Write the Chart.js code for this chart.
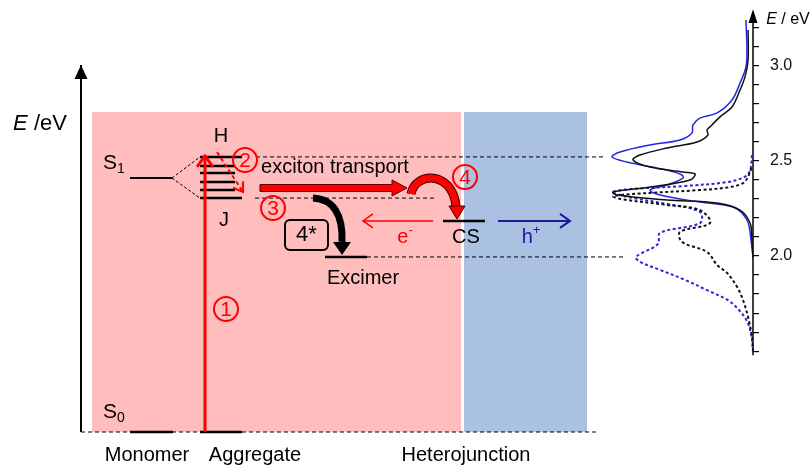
<!DOCTYPE html>
<html>
<head>
<meta charset="utf-8">
<script src="https://cdn.jsdelivr.net/npm/chart.js@4.4.1/dist/chart.umd.min.js"></script>
<style>
  html, body { margin: 0; padding: 0; background: #fff; }
  #wrap { position: relative; width: 812px; height: 466px; }
</style>
</head>
<body>
<div id="wrap"><canvas id="chart"></canvas></div>
<script>
// Energy axis (eV)
const energyTicks = [1.5, 1.6, 1.7, 1.8, 1.9, 2.0, 2.1, 2.2, 2.3, 2.4, 2.5, 2.6, 2.7, 2.8, 2.9, 3.0, 3.1, 3.2];
const energyLabels = ['2.0', '2.5', '3.0'];

// Spectra: energy (eV) vs normalised intensity
const absBlackE = [3.186, 3.029, 2.94, 2.871, 2.782, 2.730, 2.688, 2.661, 2.635, 2.598, 2.567, 2.530, 2.504, 2.467, 2.441, 2.430, 2.399, 2.362, 2.336, 2.320, 2.294, 2.278, 2.241, 2.173, 2.084, 1.99];
const absBlackI = [0.035, 0.035, 0.057, 0.092, 0.149, 0.234, 0.291, 0.326, 0.319, 0.397, 0.610, 0.801, 0.851, 0.730, 0.496, 0.411, 0.447, 0.730, 0.993, 0.965, 0.610, 0.255, 0.092, 0.021, 0.007, 0.0];
const absBlueE = [3.239, 3.081, 2.992, 2.908, 2.819, 2.751, 2.724, 2.688, 2.646, 2.609, 2.583, 2.546, 2.520, 2.493, 2.451, 2.425, 2.409, 2.373, 2.346, 2.320, 2.283, 2.257, 2.189, 2.084, 1.99];
const absBlueI = [0.05, 0.043, 0.05, 0.092, 0.149, 0.255, 0.376, 0.426, 0.433, 0.518, 0.730, 0.943, 1.0, 0.894, 0.610, 0.504, 0.496, 0.610, 0.730, 0.660, 0.376, 0.142, 0.043, 0.014, 0.0];
const emBlackE = [2.462, 2.409, 2.383, 2.362, 2.346, 2.331, 2.315, 2.299, 2.268, 2.241, 2.173, 2.126, 2.074, 2.021, 1.953, 1.911, 1.838, 1.769, 1.680, 1.575, 1.50];
const emBlackI = [0.01, 0.04, 0.07, 0.16, 0.38, 0.73, 0.99, 0.94, 0.61, 0.376, 0.305, 0.518, 0.504, 0.326, 0.255, 0.184, 0.113, 0.071, 0.035, 0.007, 0.0];
const emBlueE = [2.530, 2.451, 2.415, 2.388, 2.367, 2.352, 2.336, 2.320, 2.304, 2.273, 2.231, 2.173, 2.121, 2.063, 1.995, 1.969, 1.927, 1.874, 1.822, 1.769, 1.717, 1.654, 1.575, 1.50];
const emBlueI = [0.007, 0.02, 0.06, 0.184, 0.496, 0.85, 1.0, 0.94, 0.85, 0.61, 0.376, 0.376, 0.66, 0.674, 0.83, 0.80, 0.66, 0.48, 0.33, 0.18, 0.10, 0.04, 0.01, 0.0];

// Level energies (eV)
const S0 = 1.076;
const S1 = 2.409;
const aggLevels = [2.520, 2.472, 2.436, 2.388, 2.346, 2.304];
const hLevel = aggLevels[0];
const jLevel = aggLevels[aggLevels.length - 1];
const csLevel = 2.184;
const excimerLevel = 1.995;

// Diagram columns (horizontal diagram units)
const FONT = "'Liberation Sans', Arial, sans-serif";
const RED = '#ff0000';
const NAVY = '#1a1a9a';
const BLUE = '#2626dc';
const axisX = 81;
const monomerX = [130, 172];
const aggX = [200, 242];
const excimerX = [325, 367];
const csX = [443, 485];
const pinkX = [92, 461];
const blueX = [464, 587];
const boxTop = 2.756;

function pts(es, is) { return es.map((e, i) => ({ x: is[i], y: e })); }

function seg(x1, e1, x2, e2, color, width, dash, order) {
  return {
    data: [{ x: x1, y: e1 }, { x: x2, y: e2 }],
    borderColor: color, borderWidth: width, borderDash: dash || [],
    showLine: true, pointRadius: 0, tension: 0, xAxisID: 'x',
    order: order, clip: false, borderCapStyle: 'butt'
  };
}

// Straight arrows: shaft is a dataset, head is drawn by the plugin
const arrows = [
  { from: [205, S0], to: [205, 2.525], color: RED, width: 3, head: 'open', hl: 11, hw: 8 },
  { from: [217, 2.546], to: [243, 2.336], color: RED, width: 2, dash: [4, 3], head: 'open', hl: 9, hw: 6 },
  { from: [433, csLevel], to: [363, csLevel], color: RED, width: 1.5, head: 'open', hl: 10, hw: 7 },
  { from: [498, csLevel], to: [570, csLevel], color: NAVY, width: 2, head: 'open', hl: 10, hw: 7 },
  { from: [axisX, S0], to: [axisX, 3.003], color: '#000', width: 2, head: 'solid', hl: 14, hw: 6.5 }
];

const datasets = [];
// spectra
datasets.push({ data: pts(absBlackE, absBlackI), borderColor: '#111', borderWidth: 1.5 });
datasets.push({ data: pts(absBlueE, absBlueI), borderColor: BLUE, borderWidth: 1.5 });
datasets.push({ data: pts(emBlackE, emBlackI), borderColor: '#111', borderWidth: 2, borderDash: [3, 2.5] });
datasets.push({ data: pts(emBlueE, emBlueI), borderColor: BLUE, borderWidth: 2, borderDash: [3, 2.5] });
datasets.forEach(d => Object.assign(d, { xAxisID: 'xs', showLine: true, pointRadius: 0, tension: 0.35, clip: false, order: 0 }));
// right energy axis
datasets.push({ data: [{ x: 0, y: 1.479 }, { x: 0, y: 3.26 }], borderColor: '#000', borderWidth: 1.5,
  xAxisID: 'xs', showLine: true, pointRadius: 0, clip: false, order: 0 });

// dashed guide lines
datasets.push(seg(axisX, S0, 597, S0, '#000', 1, [4, 3], 5));
datasets.push(seg(monomerX[1], S1, aggX[0], hLevel, '#000', 1, [3, 2], 5));
datasets.push(seg(monomerX[1], S1, aggX[0], jLevel, '#000', 1, [3, 2], 5));
datasets.push(seg(256, hLevel, 603, hLevel, '#000', 1, [4, 3], 5));
datasets.push(seg(255, jLevel, 435, jLevel, '#000', 1, [4, 3], 5));
datasets.push(seg(excimerX[1], excimerLevel, 625, excimerLevel, '#000', 1, [4, 3], 5));

// energy levels
datasets.push(seg(monomerX[0], S0, monomerX[1] + 1, S0, '#000', 2.5, [], 3));
datasets.push(seg(aggX[0], S0, aggX[1], S0, '#000', 2.5, [], 3));
datasets.push(seg(monomerX[0], S1, monomerX[1], S1, '#000', 2, [], 3));
aggLevels.forEach((e, i) => {
  const end = (i === 0 || i === aggLevels.length - 1) ? aggX[1] : aggX[1] - 7;
  datasets.push(seg(aggX[0], e, end, e, '#000', 2.5, [], 3));
});
datasets.push(seg(excimerX[0], excimerLevel, excimerX[1], excimerLevel, '#000', 2.5, [], 3));
datasets.push(seg(csX[0], csLevel, csX[1], csLevel, '#000', 2.5, [], 3));

// arrow shafts
arrows.forEach(a => datasets.push(seg(a.from[0], a.from[1], a.to[0], a.to[1], a.color, a.width, a.dash, 1)));

// Text annotations, anchored in diagram units / eV
const texts = [
  { x: 40, e: 2.693, size: 22, runs: [{ t: 'E', italic: true }, { t: ' /eV' }] },
  { x: 221, e: 2.626, size: 20, runs: [{ t: 'H' }] },
  { x: 224, e: 2.184, size: 20, runs: [{ t: 'J' }] },
  { x: 114, e: 2.488, size: 21, runs: [{ t: 'S' }, { t: '1', sub: true }] },
  { x: 114, e: 1.181, size: 21, runs: [{ t: 'S' }, { t: '0', sub: true }] },
  { x: 335, e: 2.462, size: 20, runs: [{ t: 'exciton transport' }] },
  { x: 466, e: 2.095, size: 20, runs: [{ t: 'CS' }] },
  { x: 405, e: 2.095, size: 20, color: RED, runs: [{ t: 'e' }, { t: '-', sup: true }] },
  { x: 531, e: 2.097, size: 20, color: NAVY, runs: [{ t: 'h' }, { t: '+', sup: true }] },
  { x: 363, e: 1.882, size: 20, runs: [{ t: 'Excimer' }] },
  { x: 147, e: 0.955, size: 20, runs: [{ t: 'Monomer' }] },
  { x: 255, e: 0.955, size: 20, runs: [{ t: 'Aggregate' }] },
  { x: 466, e: 0.955, size: 20, runs: [{ t: 'Heterojunction' }] },
  { x: 788, e: 3.239, size: 16, runs: [{ t: 'E', italic: true }, { t: ' / eV' }] }
];

// numbered process markers
const circles = [
  { x: 226, e: 1.722, label: '1' },
  { x: 245, e: 2.504, label: '2' },
  { x: 273, e: 2.252, label: '3' },
  { x: 465, e: 2.415, label: '4' }
];

function richText(ctx, t) {
  const base = t.size;
  const fontOf = r => (r.italic ? 'italic ' : '') + (r.sub || r.sup ? Math.round(base * 0.65) : base) + 'px ' + FONT;
  let w = 0;
  t.runs.forEach(r => { ctx.font = fontOf(r); r.w = ctx.measureText(r.t).width; w += r.w; });
  let cx = t.px - w / 2;
  ctx.fillStyle = t.color || '#000';
  ctx.textBaseline = 'middle';
  ctx.textAlign = 'left';
  t.runs.forEach(r => {
    ctx.font = fontOf(r);
    const dy = r.sub ? base * 0.3 : r.sup ? -base * 0.35 : 0;
    ctx.fillText(r.t, cx, t.py + dy);
    cx += r.w;
  });
}

const diagramPlugin = {
  id: 'diagram',
  beforeDatasetsDraw(chart) {
    const { ctx, scales } = chart;
    const X = v => scales.x.getPixelForValue(v);
    const Y = v => scales.y.getPixelForValue(v);
    ctx.save();
    ctx.fillStyle = '#ffbdbd';
    ctx.fillRect(X(pinkX[0]), Y(boxTop), X(pinkX[1]) - X(pinkX[0]), Y(S0) - Y(boxTop));
    ctx.fillStyle = '#aac1e1';
    ctx.fillRect(X(blueX[0]), Y(boxTop), X(blueX[1]) - X(blueX[0]), Y(S0) - Y(boxTop));
    ctx.restore();
  },
  afterDatasetsDraw(chart) {
    const { ctx, scales } = chart;
    const X = v => scales.x.getPixelForValue(v);
    const Y = v => scales.y.getPixelForValue(v);
    ctx.save();

    // straight arrow heads
    arrows.forEach(a => {
      const x0 = X(a.from[0]), y0 = Y(a.from[1]), x1 = X(a.to[0]), y1 = Y(a.to[1]);
      const ang = Math.atan2(y1 - y0, x1 - x0);
      const bx = x1 - a.hl * Math.cos(ang), by = y1 - a.hl * Math.sin(ang);
      const nx = -Math.sin(ang) * a.hw, ny = Math.cos(ang) * a.hw;
      ctx.beginPath();
      ctx.moveTo(bx + nx, by + ny);
      ctx.lineTo(x1, y1);
      ctx.lineTo(bx - nx, by - ny);
      if (a.head === 'solid') {
        ctx.closePath();
        ctx.fillStyle = a.color;
        ctx.fill();
      } else {
        ctx.setLineDash([]);
        ctx.strokeStyle = a.color;
        ctx.lineWidth = a.width;
        ctx.lineJoin = 'miter';
        ctx.stroke();
      }
    });

    // right axis arrow head
    const ax = scales.xs.getPixelForValue(0);
    ctx.beginPath();
    ctx.moveTo(ax - 4.5, Y(3.223));
    ctx.lineTo(ax, Y(3.295));
    ctx.lineTo(ax + 4.5, Y(3.223));
    ctx.closePath();
    ctx.fillStyle = '#000';
    ctx.fill();

    // exciton transport block arrow
    const ey = Y(2.357), sx = X(260), hx = X(392), tx = X(407);
    ctx.beginPath();
    ctx.moveTo(sx, ey - 3.5);
    ctx.lineTo(hx, ey - 3.5);
    ctx.lineTo(hx, ey - 8);
    ctx.lineTo(tx, ey);
    ctx.lineTo(hx, ey + 8);
    ctx.lineTo(hx, ey + 3.5);
    ctx.lineTo(sx, ey + 3.5);
    ctx.closePath();
    ctx.fillStyle = RED;
    ctx.fill();
    ctx.strokeStyle = '#5a0000';
    ctx.lineWidth = 1;
    ctx.stroke();

    // curved arrow into the charge separated state (4)
    ctx.lineCap = 'butt';
    const curve = (p, w, color) => {
      ctx.beginPath();
      ctx.moveTo(X(p[0][0]), Y(p[0][1]));
      ctx.bezierCurveTo(X(p[1][0]), Y(p[1][1]), X(p[2][0]), Y(p[2][1]), X(p[3][0]), Y(p[3][1]));
      ctx.strokeStyle = color;
      ctx.lineWidth = w;
      ctx.stroke();
    };
    const head = (tip, baseE, hw, fill, stroke) => {
      ctx.beginPath();
      ctx.moveTo(X(tip[0]) - hw, Y(baseE));
      ctx.lineTo(X(tip[0]), Y(tip[1]));
      ctx.lineTo(X(tip[0]) + hw, Y(baseE));
      ctx.closePath();
      ctx.fillStyle = fill;
      ctx.fill();
      if (stroke) { ctx.strokeStyle = stroke; ctx.lineWidth = 1; ctx.stroke(); }
    };
    const csPath = [[411, 2.3255], [415, 2.4409], [452, 2.4514], [456, 2.2625]];
    curve(csPath, 9, '#3a0000');
    curve(csPath, 7, RED);
    head([457, 2.1942], 2.2625, 8, RED, '#3a0000');

    // excimer formation arrow (4*)
    const exPath = [[313, 2.3045], [333, 2.2992], [343, 2.2205], [342, 2.0735]];
    curve(exPath, 7, '#000');
    head([342, 2.005], 2.0735, 9, '#000');

    // 4* box
    const bx0 = X(285), bx1 = X(328), by0 = Y(2.189), by1 = Y(2.031);
    ctx.beginPath();
    ctx.roundRect(bx0, by0, bx1 - bx0, by1 - by0, 5);
    ctx.strokeStyle = '#000';
    ctx.lineWidth = 2;
    ctx.stroke();
    richText(ctx, { px: (bx0 + bx1) / 2, py: (by0 + by1) / 2, size: 22, runs: [{ t: '4*' }] });

    // numbered circles
    circles.forEach(c => {
      const cx = X(c.x), cy = Y(c.e);
      ctx.beginPath();
      ctx.arc(cx, cy, 12, 0, Math.PI * 2);
      ctx.strokeStyle = RED;
      ctx.lineWidth = 2;
      ctx.stroke();
      richText(ctx, { px: cx, py: cy + 1, size: 21, color: RED, runs: [{ t: c.label }] });
    });

    // labels
    texts.forEach(t => richText(ctx, Object.assign({}, t, { px: X(t.x), py: Y(t.e) })));
    ctx.restore();
  }
};

const chart = new Chart(document.getElementById('chart'), {
  type: 'scatter',
  data: { datasets: datasets },
  options: {
    responsive: true,
    maintainAspectRatio: false,
    animation: false,
    layout: { padding: 0 },
    plugins: { legend: { display: false }, tooltip: { enabled: false } },
    scales: {
      x: { type: 'linear', min: 0, max: 753, display: false },
      xs: { type: 'linear', min: 0, max: 753 / 141, reverse: true, display: false },
      y: {
        type: 'linear',
        position: 'right',
        min: 0.8976,
        max: 3.3438,
        afterBuildTicks: s => { s.ticks = energyTicks.map(v => ({ value: v })); },
        afterFit: s => { s.width = 59; s.paddingTop = 0; s.paddingBottom = 0; },
        border: { display: false },
        grid: { drawOnChartArea: false, drawTicks: true, tickLength: 6, color: '#000', lineWidth: 1.2 },
        ticks: {
          autoSkip: false,
          padding: 11,
          color: '#111',
          font: { family: FONT, size: 16 },
          callback: v => {
            const s = Number(v).toFixed(1);
            return energyLabels.includes(s) ? s : '';
          }
        }
      }
    }
  },
  plugins: [diagramPlugin]
});
</script>
</body>
</html>
